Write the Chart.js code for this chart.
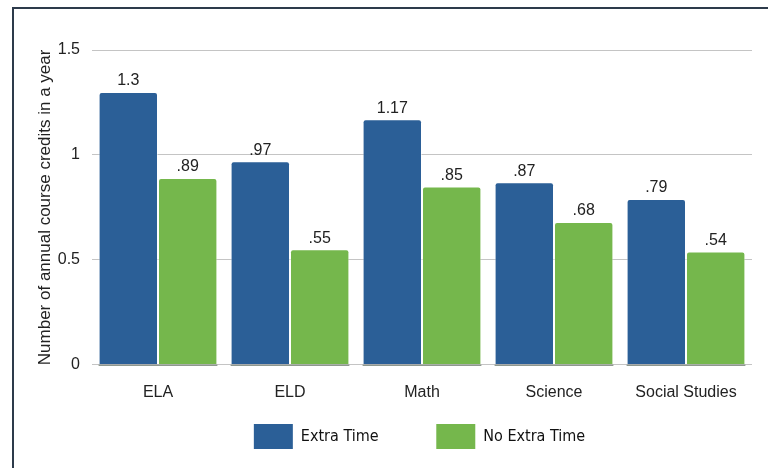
<!DOCTYPE html>
<html>
<head>
<meta charset="utf-8">
<script src="https://cdn.jsdelivr.net/npm/chart.js@4/dist/chart.umd.min.js"></script>
<style>
  html, body { margin: 0; padding: 0; background: #fff; }
  #wrap { position: relative; width: 768px; height: 468px; }
</style>
</head>
<body>
<div id="wrap"><canvas id="chart" width="768" height="468"></canvas></div>
<script>
const subjects = ['ELA', 'ELD', 'Math', 'Science', 'Social Studies'];
const extraTime = [1.3, 0.97, 1.17, 0.87, 0.79];
const noExtraTime = [0.89, 0.55, 0.85, 0.68, 0.54];
const extraLabels = ['1.3', '.97', '1.17', '.87', '.79'];
const noExtraLabels = ['.89', '.55', '.85', '.68', '.54'];
const yTicks = [0, 0.5, 1, 1.5];

const blue = '#2b5f97'
const green = '#75b74c'
const baseFont = '"Liberation Sans", Arial, sans-serif'
const legendFont = '"Liberation Sans Narrow", "DejaVu Sans Condensed", "Liberation Sans", sans-serif'

// frame lines along the top and left edge
const framePlugin = {
    id: 'frame',
    beforeDraw(chart) {
        let ctx = chart.ctx
        ctx.save()
        ctx.strokeStyle = '#2d3b4b'
        ctx.lineWidth = 2
        ctx.beginPath()
        ctx.moveTo(768, 8)
        ctx.lineTo(13, 8)
        ctx.lineTo(13, 468)
        ctx.stroke()
        ctx.restore()
    }
}

// nudge the legend to the right so it sits under the plot
const legendShift = {
    id: 'legendShift',
    afterLayout(chart) {
        if (chart.legend) {
            chart.legend.left += 26
            chart.legend.right += 26
        }
    }
}

// value labels above each bar
const valueLabels = {
    id: 'valueLabels',
    afterDatasetsDraw(chart) {
        let ctx = chart.ctx
        let texts = [extraLabels, noExtraLabels]
        ctx.save()
        ctx.font = '16px ' + baseFont
        ctx.fillStyle = '#222'
        ctx.textAlign = 'center'
        ctx.textBaseline = 'bottom'
        chart.data.datasets.forEach((ds, i) => {
            chart.getDatasetMeta(i).data.forEach((bar, j) => {
                ctx.fillText(texts[i][j], bar.x, bar.y - 3)
            })
        })
        // darker baseline under the bars
        let y0 = chart.scales.y.getPixelForValue(0)
        ctx.strokeStyle = 'rgba(20,40,20,0.6)'
        ctx.lineWidth = 1
        chart.data.datasets.forEach((ds, i) => {
            chart.getDatasetMeta(i).data.forEach(bar => {
                ctx.beginPath()
                ctx.moveTo(bar.x - bar.width / 2, y0 + 0.5)
                ctx.lineTo(bar.x + bar.width / 2, y0 + 0.5)
                ctx.stroke()
            })
        })
        ctx.restore()
    }
}

let myChart = new Chart(document.getElementById('chart'), {
    type: 'bar',
    data: {
        labels: subjects,
        datasets: [{
            label: 'Extra Time',
            data: extraTime,
            backgroundColor: blue,
            borderColor: 'rgba(255,255,255,0.5)',
            borderWidth: 1,
            borderRadius: { topLeft: 3, topRight: 3 },
            borderSkipped: 'bottom',
            categoryPercentage: 0.9,
            barPercentage: 1.0
        }, {
            label: 'No Extra Time',
            data: noExtraTime,
            backgroundColor: green,
            borderColor: 'rgba(255,255,255,0.5)',
            borderWidth: 1,
            borderRadius: { topLeft: 3, topRight: 3 },
            borderSkipped: 'bottom',
            categoryPercentage: 0.9,
            barPercentage: 1.0
        }]
    },
    options: {
        responsive: false,
        animation: false,
        layout: { padding: { left: 35, right: 16, top: 50, bottom: 9 } },
        plugins: {
            tooltip: { enabled: false },
            legend: {
                position: 'bottom',
                labels: {
                    boxWidth: 39,
                    boxHeight: 25,
                    padding: 12,
                    color: '#111',
                    font: { family: legendFont, size: 16 },
                    generateLabels(chart) {
                        let items = Chart.defaults.plugins.legend.labels.generateLabels(chart)
                        // widen the first item so the second starts further right
                        items[0].text = items[0].text + '          '
                        items.forEach(it => { it.lineWidth = 0 })
                        return items
                    }
                }
            }
        },
        scales: {
            x: {
                grid: { display: false },
                border: { display: false },
                ticks: {
                    color: '#222',
                    padding: 10,
                    font: { family: baseFont, size: 16 }
                }
            },
            y: {
                min: yTicks[0],
                max: yTicks[yTicks.length - 1],
                afterBuildTicks: axis => { axis.ticks = yTicks.map(v => ({ value: v })) },
                afterFit: axis => { axis.width = 57 },
                ticks: {
                    padding: 12,
                    color: '#222',
                    font: { family: baseFont, size: 16 },
                    callback: v => String(v)
                },
                grid: { color: '#c4c4c4', lineWidth: 1, drawTicks: false },
                border: { display: false },
                title: {
                    display: true,
                    text: 'Number of annual course credits in a year',
                    color: '#222',
                    padding: { top: 0, bottom: 0 },
                    font: { family: baseFont, size: 17 }
                }
            }
        }
    },
    plugins: [framePlugin, legendShift, valueLabels]
})
</script>
</body>
</html>
